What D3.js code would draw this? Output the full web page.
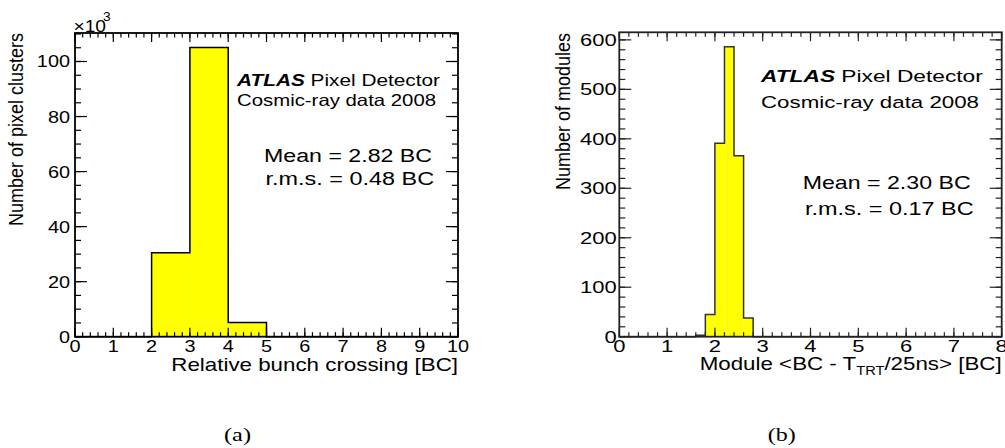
<!DOCTYPE html>
<html>
<head>
<meta charset="utf-8">
<script src="https://cdn.jsdelivr.net/npm/d3@7"></script>
<style>
html,body{margin:0;padding:0;background:#fff;}
svg{display:block;}
text{font-family:"Liberation Sans",Arial,Helvetica,sans-serif;fill:#000;}
</style>
</head>
<body>
<div id="chart"></div>
<script>
// ---------- data ----------
// (a) relative bunch crossing histogram, counts in units of 10^3
const leftBinEdges = [0, 1, 2, 3, 4, 5, 6, 7, 8, 9, 10];
const leftCounts = [0, 0, 30.5, 105.1, 5.2, 0, 0, 0, 0, 0];
const leftXTicks = [0, 1, 2, 3, 4, 5, 6, 7, 8, 9, 10];
const leftYTicks = [0, 20, 40, 60, 80, 100];

// (b) module <BC - T_TRT/25ns>, bins of width 0.2 (low edges)
const rightBinLow = [1.6, 1.8, 2.0, 2.2, 2.4, 2.6];
const rightCounts = [3, 45, 391, 586, 366, 38];
const rightBinWidth = 0.2;
const rightXTicks = [0, 1, 2, 3, 4, 5, 6, 7, 8];
const rightYTicks = [0, 100, 200, 300, 400, 500, 600];

// ---------- drawing ----------
const W = 1005, H = 448;
const svg = d3.select("#chart").append("svg").attr("width", W).attr("height", H);

function fit(sel, x, y, targetW) {
  const w = sel.node().getBBox().width;
  sel.attr("transform", `translate(${x},${y}) scale(${targetW / w},1)`);
}

function panel(cfg) {
  const g = svg.append("g");
  const x = d3.scaleLinear().domain(cfg.xDomain).range([cfg.left, cfg.right]);
  const y = d3.scaleLinear().domain(cfg.yDomain).range([cfg.bottom, cfg.top]);

  g.selectAll("rect.bar").data(cfg.bins.filter(b => b.v > 0)).join("rect")
    .attr("class", "bar")
    .attr("x", d => x(d.lo)).attr("width", d => x(d.hi) - x(d.lo))
    .attr("y", d => y(d.v)).attr("height", d => y(0) - y(d.v))
    .attr("fill", "#ffff00");
  const line = d3.line().x(d => x(d[0])).y(d => y(d[1]));
  const steps = [];
  steps.push([cfg.xDomain[0], 0]);
  cfg.bins.forEach(b => {
    steps.push([b.lo, steps[steps.length - 1][1]]);
    steps.push([b.lo, b.v]);
    steps.push([b.hi, b.v]);
  });
  steps.push([steps[steps.length - 1][0], 0]);
  steps.push([cfg.xDomain[1], 0]);
  g.append("path").attr("d", line(steps)).attr("fill", "none")
    .attr("stroke", cfg.histStroke).attr("stroke-width", 1.5);

  const xMajor = cfg.xTicks;
  const xMinor = d3.range(cfg.xDomain[0], cfg.xDomain[1] + 1e-9, cfg.xMinorStep);
  const yMajor = cfg.yTicks;
  const yMinor = d3.range(0, cfg.yDomain[1], cfg.yMinorStep);
  const tk = g.append("g").attr("stroke", cfg.frameStroke).attr("stroke-width", 1.2);
  const xt = (vals, len) => {
    tk.selectAll(null).data(vals).join("line")
      .attr("x1", d => x(d)).attr("x2", d => x(d))
      .attr("y1", cfg.bottom).attr("y2", cfg.bottom - len);
    tk.selectAll(null).data(vals).join("line")
      .attr("x1", d => x(d)).attr("x2", d => x(d))
      .attr("y1", cfg.top).attr("y2", cfg.top + len);
  };
  const yt = (vals, len) => {
    tk.selectAll(null).data(vals).join("line")
      .attr("y1", d => y(d)).attr("y2", d => y(d))
      .attr("x1", cfg.left).attr("x2", cfg.left + len);
    tk.selectAll(null).data(vals).join("line")
      .attr("y1", d => y(d)).attr("y2", d => y(d))
      .attr("x1", cfg.right).attr("x2", cfg.right - len);
  };
  xt(xMinor, 4.5); xt(xMajor, 9);
  yt(yMinor, 6); yt(yMajor, 12);

  g.append("rect").attr("x", cfg.left).attr("y", cfg.top)
    .attr("width", cfg.right - cfg.left).attr("height", cfg.bottom - cfg.top)
    .attr("fill", "none").attr("stroke", cfg.frameStroke).attr("stroke-width", 1.8);

  g.selectAll("text.xl").data(xMajor).join("text").attr("class", "xl")
    .attr("text-anchor", "middle").attr("font-size", 16.3)
    .attr("transform", d => `translate(${x(d)},${cfg.bottom + 15}) scale(${cfg.sx},1)`)
    .text(d => d);
  g.selectAll("text.yl").data(yMajor).join("text").attr("class", "yl")
    .attr("text-anchor", "end").attr("font-size", 16.3)
    .attr("transform", d => `translate(${cfg.yLabelX},${y(d) + 6}) scale(${cfg.sx},1)`)
    .text(d => d);

  return {g, x, y};
}

function binsFromEdges(edges, counts) {
  return counts.map((v, i) => ({lo: edges[i], hi: edges[i + 1], v}));
}

const A = panel({
  left: 75, right: 458, top: 33, bottom: 336.7,
  xDomain: [0, 10], yDomain: [0, d3.max(leftCounts) * 1.05],
  xTicks: leftXTicks, yTicks: leftYTicks, xMinorStep: 0.2, yMinorStep: 5,
  bins: binsFromEdges(leftBinEdges, leftCounts),
  histStroke: "#000", frameStroke: "#000", sx: 1.22, yLabelX: 70
});
const B = panel({
  left: 619.3, right: 1001.7, top: 32.3, bottom: 336.7,
  xDomain: [0, 8], yDomain: [0, d3.max(rightCounts) * 1.05],
  xTicks: rightXTicks, yTicks: rightYTicks, xMinorStep: 0.2, yMinorStep: 20,
  bins: rightBinLow.map((lo, i) => ({lo, hi: lo + rightBinWidth, v: rightCounts[i]})),
  histStroke: "#333", frameStroke: "#222", sx: 1.35, yLabelX: 616.7
});

// ---- axis titles
let t;
t = svg.append("text").attr("text-anchor", "end").attr("font-size", 18.6).text("Relative bunch crossing [BC]");
fit(t, 458, 370.5, 286.7);

t = svg.append("text").attr("text-anchor", "end").attr("font-size", 18.3);
t.append("tspan").text("Module <BC - T");
t.append("tspan").attr("font-size", 12).attr("dy", 5).text("TRT");
t.append("tspan").attr("dy", -5).text("/25ns> [BC]");
fit(t, 1001.7, 369.5, 302);

svg.append("text").attr("text-anchor", "end").attr("font-size", 18)
  .attr("transform", "translate(23,33) rotate(-90) scale(1,1.12)").text("Number of pixel clusters");
svg.append("text").attr("text-anchor", "end").attr("font-size", 18)
  .attr("transform", "translate(569.5,33) rotate(-90) scale(1,1.12)").text("Number of modules");

// x10^3 multiplier
svg.append("text").attr("font-size", 16)
  .attr("transform", "translate(73.5,31.5) scale(1.2,1)").text("\u00d710");
svg.append("text").attr("font-size", 12)
  .attr("transform", "translate(103,21) scale(1.15,1)").text("3");

// ---- annotations
function atlas(x, y, w, fs) {
  const s = svg.append("text").attr("font-size", fs);
  s.append("tspan").attr("font-weight", "bold").attr("font-style", "italic").text("ATLAS");
  s.append("tspan").text(" Pixel Detector");
  fit(s, x, y, w);
}
atlas(237, 86, 204.7, 16.7);
t = svg.append("text").attr("font-size", 16.7).text("Cosmic-ray data 2008");
fit(t, 237, 106, 199);
t = svg.append("text").attr("font-size", 18.2).text("Mean = 2.82 BC");
fit(t, 264, 162, 168);
t = svg.append("text").attr("font-size", 18.2).text("r.m.s. = 0.48 BC");
fit(t, 265.5, 185, 168.5);

atlas(761, 81.7, 224, 16.3);
t = svg.append("text").attr("font-size", 16.3).text("Cosmic-ray data 2008");
fit(t, 761, 108.3, 218);
t = svg.append("text").attr("font-size", 17.5).text("Mean = 2.30 BC");
fit(t, 802.7, 189.3, 168);
t = svg.append("text").attr("font-size", 17.5).text("r.m.s. = 0.17 BC");
fit(t, 805, 215, 168.7);

// ---- captions
t = svg.append("text").attr("font-size", 19).style("font-family", "'Liberation Serif','Times New Roman',serif")
  .attr("text-anchor", "middle").text("(a)");
fit(t, 237.5, 441, 27);
t = svg.append("text").attr("font-size", 19).style("font-family", "'Liberation Serif','Times New Roman',serif")
  .attr("text-anchor", "middle").text("(b)");
fit(t, 781.7, 441, 28);
</script>
</body>
</html>
